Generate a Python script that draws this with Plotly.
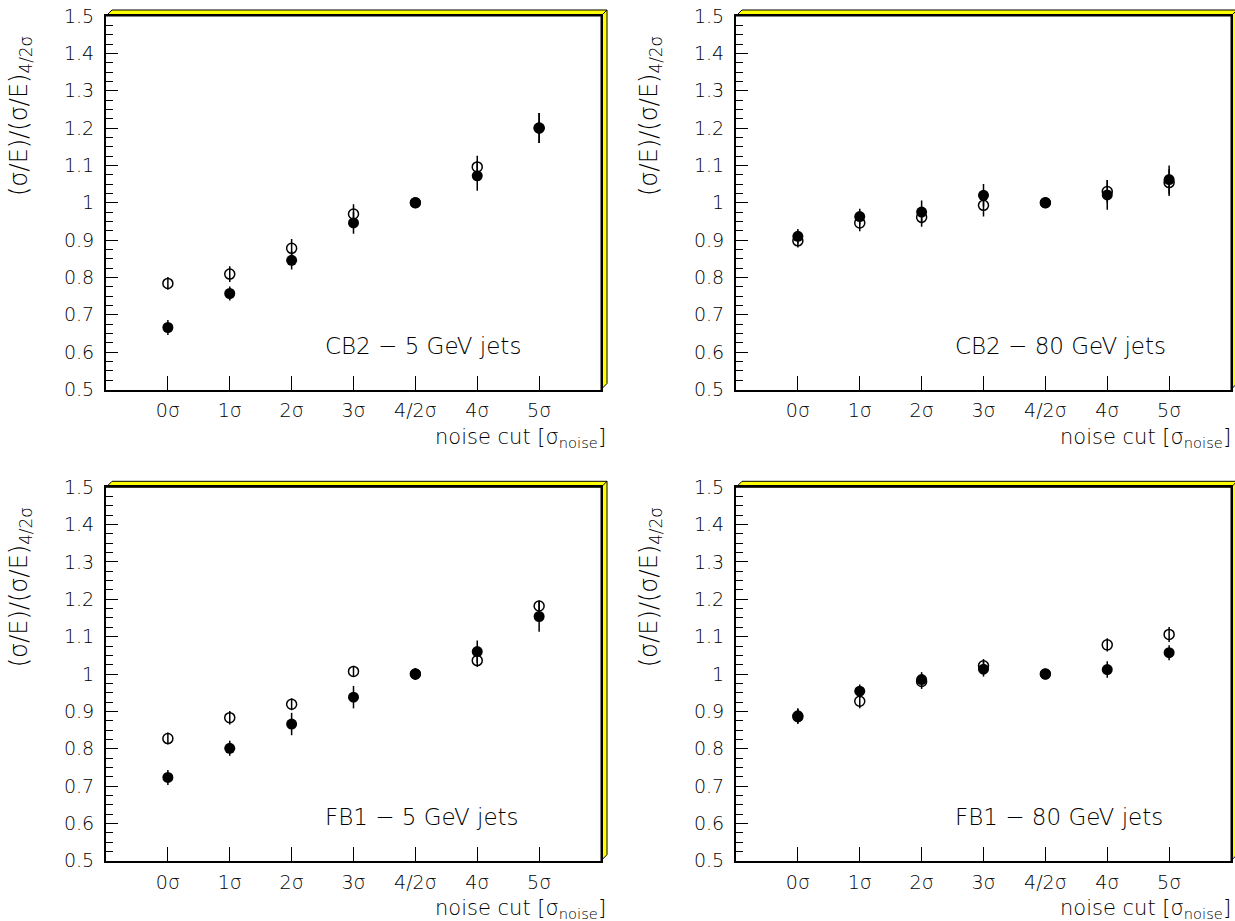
import plotly.graph_objects as go

W, H = 1235, 921

cats = ["0σ", "1σ", "2σ", "3σ", "4/2σ", "4σ", "5σ"]

# CB2 - 5 GeV jets
cb2_5_open = [0.784, 0.809, 0.878, 0.970, 1.0, 1.096, 1.200]
cb2_5_open_err = [0.017, 0.021, 0.025, 0.026, 0.0, 0.030, 0.040]
cb2_5_full = [0.666, 0.757, 0.846, 0.946, 1.0, 1.072, 1.200]
cb2_5_full_err = [0.020, 0.019, 0.025, 0.029, 0.0, 0.040, 0.040]

# CB2 - 80 GeV jets
cb2_80_open = [0.898, 0.946, 0.961, 0.993, 1.0, 1.030, 1.054]
cb2_80_open_err = [0.018, 0.022, 0.025, 0.030, 0.0, 0.030, 0.036]
cb2_80_full = [0.910, 0.963, 0.975, 1.020, 1.0, 1.021, 1.062]
cb2_80_full_err = [0.020, 0.021, 0.031, 0.030, 0.0, 0.040, 0.038]

# FB1 - 5 GeV jets
fb1_5_open = [0.827, 0.883, 0.919, 1.007, 1.0, 1.036, 1.182]
fb1_5_open_err = [0.016, 0.018, 0.016, 0.015, 0.0, 0.017, 0.015]
fb1_5_full = [0.723, 0.801, 0.866, 0.938, 1.0, 1.060, 1.154]
fb1_5_full_err = [0.020, 0.020, 0.030, 0.030, 0.016, 0.030, 0.041]

# FB1 - 80 GeV jets
fb1_80_open = [0.886, 0.927, 0.980, 1.022, 1.0, 1.078, 1.106]
fb1_80_open_err = [0.020, 0.019, 0.020, 0.018, 0.0, 0.018, 0.020]
fb1_80_full = [0.888, 0.954, 0.985, 1.013, 1.0, 1.012, 1.057]
fb1_80_full_err = [0.020, 0.018, 0.020, 0.020, 0.0, 0.022, 0.020]

ytickvals = [0.5, 0.6, 0.7, 0.8, 0.9, 1.0, 1.1, 1.2, 1.3, 1.4, 1.5]
yticktext = ["0.5", "0.6", "0.7", "0.8", "0.9", "1", "1.1", "1.2", "1.3", "1.4", "1.5"]

panel_titles = ["CB2 − 5 GeV jets", "CB2 − 80 GeV jets", "FB1 − 5 GeV jets", "FB1 − 80 GeV jets"]
ytitle = "(σ/E)/(σ/E)<sub>4/2σ</sub>"
xtitle = "noise cut [σ<sub>noise</sub>]"

FONT = "DejaVu Sans"
WEIGHT = 200

# panel pixel frames: (x0, x1, ytop, ybottom)
frames = [
    (106, 601, 16, 389.5),
    (736, 1231, 16, 389.5),
    (106, 601, 487.3, 860.7),
    (736, 1231, 487.3, 860.7),
]
panels = [
    (cb2_5_open, cb2_5_open_err, cb2_5_full, cb2_5_full_err),
    (cb2_80_open, cb2_80_open_err, cb2_80_full, cb2_80_full_err),
    (fb1_5_open, fb1_5_open_err, fb1_5_full, fb1_5_full_err),
    (fb1_80_open, fb1_80_open_err, fb1_80_full, fb1_80_full_err),
]


def px(x):
    return x / W


def py(y):
    return 1 - y / H


fig = go.Figure()
layout = dict(
    width=W, height=H, autosize=False,
    margin=dict(l=0, r=0, t=0, b=0, pad=0, autoexpand=False),
    paper_bgcolor="white", plot_bgcolor="white",
    showlegend=False,
    font=dict(family=FONT, size=19, color="black", weight=WEIGHT),
)
shapes = []
annotations = []

for i, ((x0, x1, yt, yb), (o, oe, f, fe)) in enumerate(zip(frames, panels)):
    n = i + 1
    xa = "x" if n == 1 else f"x{n}"
    ya = "y" if n == 1 else f"y{n}"
    fig.add_trace(go.Scatter(
        x=cats, y=o, xaxis=xa, yaxis=ya, mode="markers",
        marker=dict(symbol="circle-open", size=10, color="black", line=dict(width=1.5)),
        error_y=dict(type="data", array=oe, visible=True, color="black", thickness=1.5, width=0),
        cliponaxis=False,
    ))
    fig.add_trace(go.Scatter(
        x=cats, y=f, xaxis=xa, yaxis=ya, mode="markers",
        marker=dict(symbol="circle", size=11, color="black"),
        error_y=dict(type="data", array=fe, visible=True, color="black", thickness=1.5, width=0),
        cliponaxis=False,
    ))
    xkey = "xaxis" if n == 1 else f"xaxis{n}"
    ykey = "yaxis" if n == 1 else f"yaxis{n}"
    layout[xkey] = dict(
        domain=[px(x0), px(x1)], anchor=ya, type="category",
        categoryorder="array", categoryarray=cats,
        range=[-1, 7], showgrid=False, zeroline=False, automargin=False,
        showline=True, linecolor="black", linewidth=2, mirror=True,
        ticks="inside", ticklen=14, tickcolor="black", tickwidth=1,
        tickfont=dict(family=FONT, size=19, weight=WEIGHT), ticklabelstandoff=3,
    )
    layout[ykey] = dict(
        domain=[py(yb), py(yt)], anchor=xa,
        range=[0.5, 1.5], showgrid=False, zeroline=False, automargin=False,
        showline=True, linecolor="black", linewidth=2, mirror=True,
        ticks="inside", ticklen=12, tickcolor="black", tickwidth=1,
        tickvals=ytickvals, ticktext=yticktext,
        tickfont=dict(family=FONT, size=19, weight=WEIGHT), ticklabelstandoff=6,
        minor=dict(ticks="inside", ticklen=7, dtick=0.025, tick0=0.5, tickcolor="black", tickwidth=1),
    )
    d = 6
    path = (f"M {px(x0)},{py(yt)} L {px(x0 + d)},{py(yt - d)} L {px(x1 + d)},{py(yt - d)} "
            f"L {px(x1 + d)},{py(yb - d)} L {px(x1)},{py(yb)} L {px(x1)},{py(yt)} Z")
    shapes.append(dict(type="path", xref="paper", yref="paper", path=path,
                       fillcolor="#ffff00", line=dict(color="black", width=1), layer="below"))
    shapes.append(dict(type="line", xref="paper", yref="paper",
                       x0=px(x1), y0=py(yt), x1=px(x1 + d), y1=py(yt - d),
                       line=dict(color="black", width=1)))
    # panel label
    annotations.append(dict(xref="paper", yref="paper", x=px(x0 + 217), y=py(yb - 43.5),
                            text=panel_titles[i], showarrow=False, xanchor="left", yanchor="middle",
                            font=dict(family=FONT, size=23, weight=WEIGHT)))
    # x title
    annotations.append(dict(xref="paper", yref="paper", x=px(min(x1 + 7, 1233)), y=py(yb + 48),
                            text=xtitle, showarrow=False, xanchor="right", yanchor="middle",
                            font=dict(family=FONT, size=21, weight=WEIGHT)))
    # y title
    annotations.append(dict(xref="paper", yref="paper", x=px(x0 - 86), y=py(yt + 100),
                            text=ytitle, showarrow=False, textangle=-90,
                            xanchor="center", yanchor="middle",
                            font=dict(family=FONT, size=24, weight=WEIGHT)))

layout["shapes"] = shapes
layout["annotations"] = annotations
fig.update_layout(**layout)
fig.write_html("out.html")
